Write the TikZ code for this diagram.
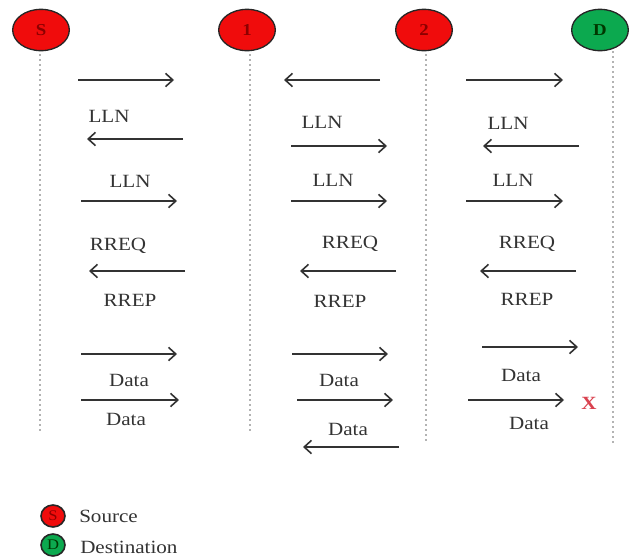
\documentclass[tikz,border=0pt]{standalone}
\usepackage{fontspec}
\setmainfont[FakeStretch=1.13]{Liberation Serif}
\usetikzlibrary{arrows.meta,shapes.geometric}
\definecolor{nodered}{HTML}{F00C0C}
\definecolor{nodegreen}{HTML}{0CA94F}
\definecolor{inkgray}{HTML}{333333}
\definecolor{dotgray}{HTML}{666666}
\definecolor{crossred}{HTML}{D9424F}
\tikzset{
  x=0.75pt, y=-0.75pt,
  station/.style={shape=ellipse, draw=black!85!white, line width=1pt, minimum width=42.5pt, minimum height=31pt, inner sep=0pt, font=\fontsize{12.5}{12.5}\selectfont\bfseries},
  redst/.style={station, fill=nodered, text=red!55!black},
  greenst/.style={station, fill=nodegreen, text=green!22!black},
  lifeline/.style={draw=dotgray, line width=1.4pt, line cap=round, dash pattern=on 0pt off 3.75pt},
  msg/.style={draw=inkgray, line width=1.2pt, -{Straight Barb[length=5.5pt,width=10pt,line width=1.2pt]}},
  lbl/.style={text=inkgray, inner sep=0pt, font=\fontsize{14}{14}\selectfont},
  legendlbl/.style={lbl, anchor=west},
  legendred/.style={redst, minimum width=18pt, minimum height=16.5pt, line width=1.2pt, font=\fontsize{11}{11}\selectfont},
  legendgreen/.style={greenst, minimum width=18pt, minimum height=16.5pt, line width=1.2pt, font=\fontsize{11}{11}\selectfont},
}
\begin{document}
\begin{tikzpicture}
\useasboundingbox (0,0) rectangle (631,557);
% stations
\node[redst] (S) at (41,30) {S};
\node[redst] (N1) at (247,30) {1};
\node[redst] (N2) at (424,30) {2};
\node[greenst] (D) at (600,30) {D};
% lifelines
\coordinate (Stop) at (40,55);   \coordinate (Send) at (40,432);
\coordinate (Atop) at (250,55);  \coordinate (Aend) at (250,432);
\coordinate (Btop) at (426,55);  \coordinate (Bend) at (426,445);
\coordinate (Dtop) at (613,52);  \coordinate (Dend) at (613,445);
\draw[lifeline] (Stop) -- (Send);
\draw[lifeline] (Atop) -- (Aend);
\draw[lifeline] (Btop) -- (Bend);
\draw[lifeline] (Dtop) -- (Dend);
% messages
\foreach \i/\xa/\xb/\yy in {
  1/78/174/80, 2/183/87/139, 3/81/177/201, 4/185/89/271, 5/81/177/354, 6/81/179/400,
  7/380/284/80, 8/291/387/146, 9/291/387/201, 10/396/300/271, 11/292/388/354, 12/297/393/400, 13/399/303/447,
  14/466/563/80, 15/579/483/146, 16/466/563/201, 17/576/480/271, 18/482/578/347, 19/468/564/400}{
  \coordinate (m\i a) at (\xa,\yy);
  \coordinate (m\i b) at (\xb,\yy);
  \draw[msg] (m\i a) -- (m\i b);
}
% labels
\foreach \i/\xx/\yy/\t in {
  1/109/116/LLN, 2/130/181/LLN, 3/118/246/RREQ, 4/130/300/RREP, 5/129/380/Data, 6/126/419/Data,
  7/322/122/LLN, 8/333/180/LLN, 9/350/244/RREQ, 10/340/301/RREP, 11/339/380/Data, 12/348/429/Data,
  13/508/123/LLN, 14/513/180/LLN, 15/527/244/RREQ, 16/527/299/RREP, 17/521/375/Data, 18/529/423/Data}{
  \node[lbl] (t\i) at (\xx,\yy) {\t};
}
\node[lbl, text=crossred, font=\fontsize{14}{14}\selectfont\bfseries] (cross) at (589,403) {X};
% legend
\node[legendred] (legS) at (53,516) {S};
\node[legendgreen] (legD) at (53,545) {D};
\node[legendlbl] (legSt) at (79,516) {Source};
\node[legendlbl] (legDt) at (80,547) {Destination};
\end{tikzpicture}
\end{document}
